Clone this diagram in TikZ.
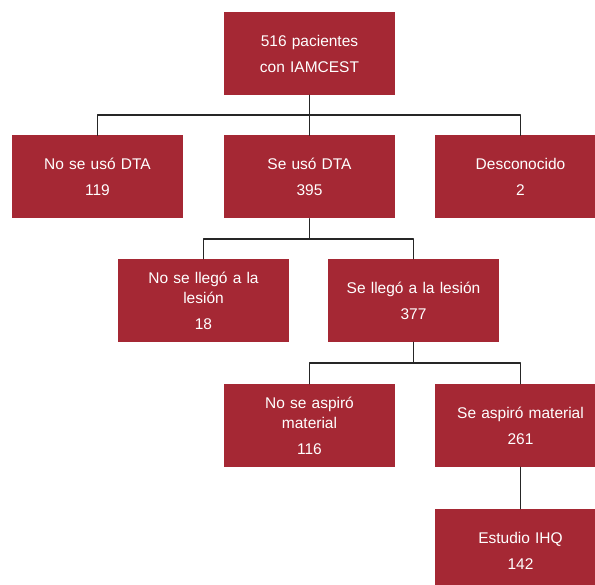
\documentclass[tikz,border=0pt]{standalone}
\usepackage{fontspec}
\setmainfont{Liberation Sans}
\usepackage{xcolor}
\usepackage{tikz}
\usetikzlibrary{calc,positioning}
\definecolor{caja}{RGB}{165,40,52}

\begin{document}
\begin{tikzpicture}[x=1pt,y=-1pt,line cap=round,line join=round,
  box/.style={fill=caja,text=white,minimum width=171pt,minimum height=83pt,
    inner sep=0pt,align=center,text width=160pt,font=\fontsize{15.5}{20}\selectfont},
  conn/.style={draw=black!85,line width=1.1pt}]
\useasboundingbox (0,0) rectangle (595,585);
\clip (0,0) rectangle (595,585);
% nivel 1
\node[box] (total) at (309.5,53.5) {516 pacientes\\[6pt]con IAMCEST};
% nivel 2
\node[box] (nodta) at (97.5,177) {No se usó DTA\\[6pt]119};
\node[box] (dta) at (309.5,177) {Se usó DTA\\[6pt]395};
\node[box] (desc) at (520.5,177) {Desconocido\\[6pt]2};
% nivel 3
\node[box] (nolleg) at (203.5,300.5) {No se llegó a la\\lesión\\[6pt]18};
\node[box] (lleg) at (413.5,300.5) {Se llegó a la lesión\\[6pt]377};
% nivel 4
\node[box] (noasp) at (309.5,425.5) {No se aspiró\\material\\[6pt]116};
\node[box] (asp) at (520.5,425.5) {Se aspiró material\\[6pt]261};
% nivel 5
\node[box] (ihq) at (520.5,550.5) {Estudio IHQ\\[6pt]142};

\coordinate (j1) at (309.5,115);
\coordinate (j2) at (309.5,239);
\coordinate (j3) at (413.5,363);
\draw[conn] (total.south) -- (j1);
\draw[conn] (nodta.north) |- (j1) -| (desc.north);
\draw[conn] (j1) -- (dta.north);
\draw[conn] (dta.south) -- (j2);
\draw[conn] (nolleg.north) |- (j2) -| (lleg.north);
\draw[conn] (lleg.south) -- (j3);
\draw[conn] (noasp.north) |- (j3) -| (asp.north);
\draw[conn] (asp.south) -- (ihq.north);
\end{tikzpicture}
\end{document}
